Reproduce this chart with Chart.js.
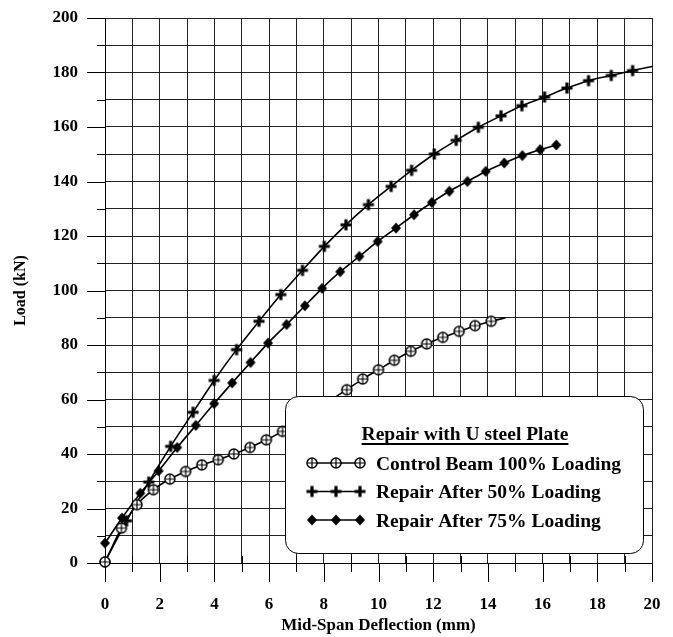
<!DOCTYPE html>
<html><head><meta charset="utf-8">
<script src="https://cdn.jsdelivr.net/npm/chart.js@4.4.1/dist/chart.umd.min.js"></script>
<style>html,body{margin:0;padding:0;background:#fff}canvas{display:block}</style>
</head><body>
<canvas id="c" width="673" height="637"></canvas>
<script>
// ---------- data ----------
const xTickLabels = [0, 2, 4, 6, 8, 10, 12, 14, 16, 18, 20];
const yTickLabels = [0, 20, 40, 60, 80, 100, 120, 140, 160, 180, 200];
const xAxisTitle = 'Mid-Span Deflection (mm)';
const yAxisTitle = 'Load (kN)';
const legendTitle = 'Repair with U steel Plate';
const seriesNames = ['Control Beam 100% Loading', 'Repair After 50% Loading', 'Repair After 75% Loading'];

const controlDeflection = [0, 0.6, 1.17, 1.77, 2.37, 2.95, 3.54, 4.14, 4.71, 5.3, 5.9, 6.49, 8.84, 9.42, 10.0, 10.58, 11.18, 11.76, 12.35, 12.95, 13.53, 14.12];
const controlLoad       = [0.4, 12.8, 21.4, 26.9, 30.8, 33.6, 36.0, 37.9, 40.0, 42.4, 45.2, 48.3, 63.6, 67.5, 70.9, 74.4, 77.7, 80.4, 82.8, 85.0, 87.1, 88.7];
const controlLineEnd    = [14.65, 90.0];

const repair50Deflection = [0, 0.79, 1.6, 2.4, 3.22, 3.99, 4.81, 5.63, 6.43, 7.22, 8.02, 8.81, 9.63, 10.46, 11.21, 12.04, 12.84, 13.65, 14.48, 15.24, 16.07, 16.89, 17.68, 18.51, 19.29];
const repair50Load       = [0.4, 15.5, 29.7, 42.8, 55.3, 67.0, 78.3, 88.7, 98.5, 107.4, 116.2, 124.1, 131.5, 138.2, 144.1, 150.1, 155.1, 159.9, 164.1, 167.8, 171.0, 174.3, 177.0, 178.9, 180.7];
const repair50LineEnd    = [20, 182.2];

const repair75Deflection = [0, 0.62, 1.29, 1.96, 2.64, 3.32, 3.99, 4.65, 5.32, 5.96, 6.64, 7.31, 7.94, 8.6, 9.3, 9.97, 10.64, 11.3, 11.95, 12.59, 13.25, 13.92, 14.6, 15.26, 15.91, 16.5];
const repair75Load       = [7.3, 16.5, 25.6, 33.8, 42.4, 50.5, 58.5, 66.1, 73.6, 80.7, 87.5, 94.4, 100.8, 106.9, 112.5, 118.0, 122.9, 127.8, 132.3, 136.4, 140.0, 143.7, 146.8, 149.5, 151.7, 153.4];

// ---------- marker images ----------
function makeMarker(kind) {
  const c = document.createElement('canvas');
  c.width = 14; c.height = 14;
  const g = c.getContext('2d');
  const m = 7;
  g.strokeStyle = '#000'; g.fillStyle = '#000';
  if (kind === 'circlePlus') {
    g.lineWidth = 1.5;
    g.beginPath(); g.arc(m, m, 5, 0, Math.PI * 2);
    g.fillStyle = '#fff'; g.fill(); g.stroke();
    g.lineWidth = 1.2;
    g.beginPath(); g.moveTo(m - 5, m); g.lineTo(m + 5, m); g.moveTo(m, m - 5); g.lineTo(m, m + 5); g.stroke();
  } else if (kind === 'plus') {
    g.lineWidth = 3.2;
    g.beginPath(); g.moveTo(m - 5.5, m); g.lineTo(m + 5.5, m); g.moveTo(m, m - 5.5); g.lineTo(m, m + 5.5); g.stroke();
  } else {
    g.beginPath(); g.moveTo(m, m - 5.5); g.lineTo(m + 5, m); g.lineTo(m, m + 5.5); g.lineTo(m - 5, m); g.closePath(); g.fill();
  }
  return c;
}
const markers = [makeMarker('circlePlus'), makeMarker('plus'), makeMarker('diamond')];

function toPoints(xs, ys, end) {
  const pts = xs.map((x, i) => ({ x: x, y: ys[i] }));
  if (end) pts.push({ x: end[0], y: end[1] });
  return pts;
}
function makeDataset(i, xs, ys, end) {
  const n = xs.length;
  return {
    label: seriesNames[i],
    data: toPoints(xs, ys, end),
    borderColor: '#000',
    backgroundColor: '#000',
    borderWidth: 1.6,
    pointStyle: markers[i],
    pointRadius: ctx => (ctx.dataIndex < n ? 5 : 0),
    pointHoverRadius: 0,
    tension: 0.3,
    fill: false,
    clip: false
  };
}

const FONT = '"Liberation Serif", "Times New Roman", serif';

// ---------- tick marks + legend box plugin ----------
const decorPlugin = {
  id: 'decor',
  beforeDatasetsDraw(chart) {
    const ctx = chart.ctx, xs = chart.scales.x, ys = chart.scales.y, a = chart.chartArea;
    ctx.save();
    ctx.strokeStyle = '#000'; ctx.lineWidth = 1;
    for (let v = 0; v <= 20; v++) {
      const px = Math.round(xs.getPixelForValue(v)) + 0.5;
      ctx.beginPath();
      if (v % 2 === 0) { ctx.moveTo(px, a.bottom); ctx.lineTo(px, a.bottom + 19); }
      else { ctx.moveTo(px, a.bottom - 7); ctx.lineTo(px, a.bottom + 9); }
      ctx.stroke();
    }
    for (let v = 0; v <= 200; v += 10) {
      const py = Math.round(ys.getPixelForValue(v)) + 0.5;
      ctx.beginPath();
      if (v % 20 === 0) { ctx.moveTo(a.left - 18, py); ctx.lineTo(a.left, py); }
      else { ctx.moveTo(a.left - 8, py); ctx.lineTo(a.left, py); }
      ctx.stroke();
    }
    ctx.restore();
  },
  afterDraw(chart) {
    const ctx = chart.ctx;
    const bx = 285.5, by = 396.5, bw = 358, bh = 157, r = 13;
    ctx.save();
    ctx.beginPath();
    ctx.moveTo(bx + r, by);
    ctx.arcTo(bx + bw, by, bx + bw, by + bh, r);
    ctx.arcTo(bx + bw, by + bh, bx, by + bh, r);
    ctx.arcTo(bx, by + bh, bx, by, r);
    ctx.arcTo(bx, by, bx + bw, by, r);
    ctx.closePath();
    ctx.fillStyle = '#fff'; ctx.fill();
    ctx.strokeStyle = '#000'; ctx.lineWidth = 1; ctx.stroke();

    ctx.fillStyle = '#000';
    ctx.font = 'bold 19.5px ' + FONT;
    ctx.textBaseline = 'alphabetic';
    ctx.textAlign = 'center';
    const tcx = 465, tby = 440;
    ctx.fillText(legendTitle, tcx, tby);
    const tw = ctx.measureText(legendTitle).width;
    ctx.fillRect(tcx - tw / 2, tby + 3, tw, 2);

    ctx.textAlign = 'left';
    const rowY = [463, 491.5, 520];
    const mx = [312, 336, 360];
    for (let i = 0; i < 3; i++) {
      const y = rowY[i];
      ctx.beginPath(); ctx.strokeStyle = '#000'; ctx.lineWidth = 1.6;
      ctx.moveTo(mx[0], y); ctx.lineTo(mx[2], y); ctx.stroke();
      const img = markers[i];
      for (const x of mx) ctx.drawImage(img, x - img.width / 2, y - img.height / 2);
      ctx.fillText(seriesNames[i], 376, y + 6.5);
    }
    ctx.restore();
  }
};

new Chart(document.getElementById('c'), {
  type: 'line',
  data: {
    datasets: [
      makeDataset(0, controlDeflection, controlLoad, controlLineEnd),
      makeDataset(1, repair50Deflection, repair50Load, repair50LineEnd),
      makeDataset(2, repair75Deflection, repair75Load, null)
    ]
  },
  options: {
    responsive: false,
    devicePixelRatio: 1,
    animation: false,
    layout: { padding: { top: 18, right: 21, left: 0, bottom: 0 } },
    plugins: { legend: { display: false }, tooltip: { enabled: false } },
    events: [],
    scales: {
      x: {
        type: 'linear', min: 0, max: 20,
        afterFit(s) { s.height = 74; },
        afterBuildTicks(s) { s.ticks = Array.from({ length: 21 }, (_, i) => ({ value: i })); },
        ticks: {
          autoSkip: false, maxRotation: 0, padding: 0, color: '#000',
          font: { family: FONT, size: 17, weight: 'bold' },
          callback: v => (xTickLabels.includes(v) ? String(v) : '')
        },
        grid: { color: '#222', lineWidth: 1, drawTicks: true, tickLength: 31, tickColor: 'rgba(0,0,0,0)' },
        border: { display: true, color: '#000', width: 1 },
        title: { display: true, text: xAxisTitle, color: '#000', padding: { top: 0, bottom: 1 },
                 font: { family: FONT, size: 17, weight: 'bold' } }
      },
      y: {
        type: 'linear', min: 0, max: 200,
        afterFit(s) { s.width = 105; },
        afterBuildTicks(s) { s.ticks = Array.from({ length: 21 }, (_, i) => ({ value: i * 10 })); },
        ticks: {
          autoSkip: false, padding: 0, color: '#000',
          font: { family: FONT, size: 17, weight: 'bold' },
          callback: v => (yTickLabels.includes(v) ? String(v) : '')
        },
        grid: { color: '#222', lineWidth: 1, drawTicks: true, tickLength: 27, tickColor: 'rgba(0,0,0,0)' },
        border: { display: true, color: '#000', width: 1 },
        title: { display: true, text: yAxisTitle, color: '#000', padding: { top: 11, bottom: 0 },
                 font: { family: FONT, size: 16, weight: 'bold' } }
      }
    }
  },
  plugins: [decorPlugin]
});
</script>
</body></html>
